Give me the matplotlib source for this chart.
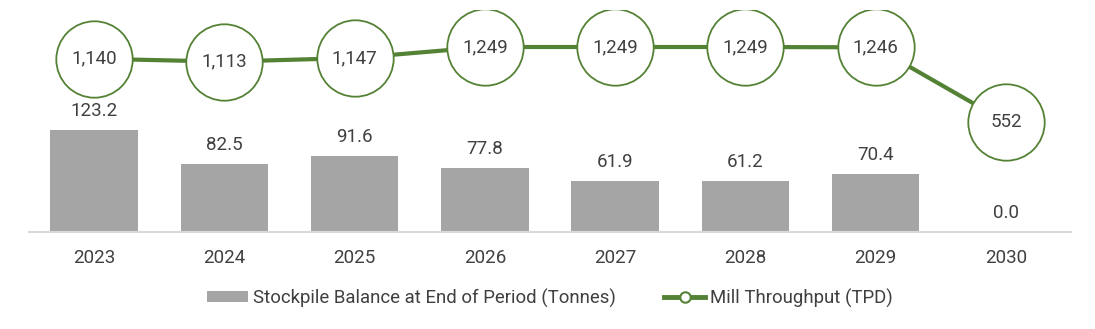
import matplotlib
matplotlib.use("Agg")
import matplotlib.pyplot as plt
from matplotlib.lines import Line2D
from matplotlib.patches import Patch

years = ["2023", "2024", "2025", "2026", "2027", "2028", "2029", "2030"]
stockpile = [123.2, 82.5, 91.6, 77.8, 61.9, 61.2, 70.4, 0.0]
throughput = [1140, 1113, 1147, 1249, 1249, 1249, 1246, 552]

plt.rcParams['font.family'] = ['Roboto', 'DejaVu Sans']
TXT = '#404040'
GREEN = '#548235'
GRAY = '#A5A5A5'

W, H = 1095, 329
fig = plt.figure(figsize=(W / 100, H / 100), dpi=100)
ax_l, ax_r, ax_b, ax_t = 29, 1071, 232, 10
ax = fig.add_axes([ax_l / W, (H - ax_b) / H, (ax_r - ax_l) / W, (ax_b - ax_t) / H])

x = list(range(len(years)))
ax.bar(x, stockpile, width=0.67, color=GRAY, zorder=2)
ax.set_xlim(-0.5, len(years) - 0.5)
ax.set_ylim(0, (ax_b - ax_t) / 0.828)
for xi, v in zip(x, stockpile):
    ax.annotate(f"{v:.1f}", (xi, v), xytext=(0, 19), textcoords='offset pixels',
                ha='center', va='center', fontsize=13.5, color=TXT)

ax.set_xticks(x)
ax.set_xticklabels(years, fontsize=13.5, color=TXT)
ax.tick_params(axis='x', length=0, pad=12)
ax.set_yticks([])
for s in ['top', 'right', 'left']:
    ax.spines[s].set_visible(False)
ax.spines['bottom'].set_color('#D9D9D9')
ax.spines['bottom'].set_linewidth(1.5)

ax2 = ax.twinx()
k = 75 / 697
vmin = 1249 - 185 / k
ax2.set_ylim(vmin, vmin + (ax_b - ax_t) / k)
ax2.plot(x, throughput, color=GREEN, lw=3, zorder=3, solid_capstyle='butt')
ax2.plot(x, throughput, ls='none', marker='o', markersize=55, markerfacecolor='white',
         markeredgecolor=GREEN, markeredgewidth=1.3, zorder=4)
for xi, v in zip(x, throughput):
    ax2.text(xi, v, f"{v:,}", ha='center', va='center', fontsize=13.5, color=TXT, zorder=5)
ax2.set_yticks([])
for s in ['top', 'right', 'left', 'bottom']:
    ax2.spines[s].set_visible(False)

handles = [Patch(facecolor=GRAY, edgecolor='none'),
           Line2D([0], [0], color=GREEN, lw=3.5, marker='o', markersize=7.5,
                  markerfacecolor='white', markeredgecolor=GREEN, markeredgewidth=1.5)]
labels = ["Stockpile Balance at End of Period (Tonnes)", "Mill Throughput (TPD)"]
fig.legend(handles, labels, loc='center', bbox_to_anchor=(550 / W, (H - 298) / H), ncol=2,
           frameon=False, fontsize=13.4, labelcolor=TXT, handlelength=2.2, handleheight=0.55,
           handletextpad=0.25, columnspacing=2.6)

fig.savefig('out.png', dpi=100)
